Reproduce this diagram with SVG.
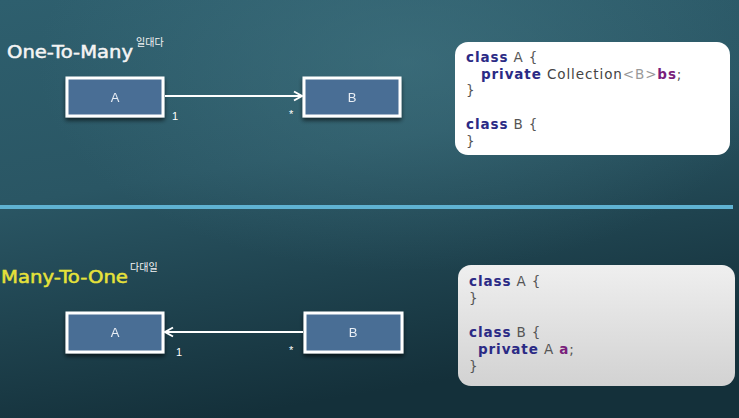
<svg xmlns="http://www.w3.org/2000/svg" width="739" height="418" viewBox="0 0 739 418">
<defs>
<linearGradient id="bg" x1="0" y1="0" x2="0.3" y2="1">
<stop offset="0" stop-color="#2e5f6e"/>
<stop offset="0.45" stop-color="#2a5664"/>
<stop offset="1" stop-color="#14303a"/>
</linearGradient>
<radialGradient id="hl" cx="0.55" cy="0.15" r="0.5">
<stop offset="0" stop-color="#4a7f8c" stop-opacity="0.45"/>
<stop offset="1" stop-color="#4a7f8c" stop-opacity="0"/>
</radialGradient>
<filter id="sh" x="-20%" y="-20%" width="140%" height="160%">
<feDropShadow dx="0" dy="3" stdDeviation="2" flood-color="#000" flood-opacity="0.6"/>
</filter>
<marker id="open" markerWidth="12" markerHeight="12" refX="10" refY="6" orient="auto" markerUnits="userSpaceOnUse">
<path d="M2,1.5 L10,6 L2,10.5" fill="none" stroke="#ffffff" stroke-width="2"/>
</marker>
<linearGradient id="code2" x1="0" y1="0" x2="0" y2="1">
<stop offset="0" stop-color="#efefef"/>
<stop offset="1" stop-color="#d2d2d2"/>
</linearGradient>
</defs>
<style>
.title{font-family:"DejaVu Sans","Noto Sans",sans-serif;font-size:17px;stroke-width:0.5}
.sup{font-family:"Noto Sans CJK KR",sans-serif;font-size:10px}
.box{fill:#4a6e95;stroke:#ffffff;stroke-width:3}
.lbl{font-family:"Liberation Sans",Arial,sans-serif;font-size:13px;fill:#e8eef5;text-anchor:middle}
.mult{font-family:"Liberation Sans",Arial,sans-serif;font-size:11px;fill:#ffffff}
.code{font-family:"DejaVu Sans","Noto Sans",sans-serif;font-size:13.5px;letter-spacing:0.9px;fill:#555}
.kw{fill:#2b2a85;font-weight:bold}
.pu{fill:#7a1f7c;font-weight:bold}
.lt{fill:#999}
.conn{stroke:#ffffff;stroke-width:2;fill:none}
</style>
<rect width="739" height="418" fill="url(#bg)"/>
<rect width="739" height="418" fill="url(#hl)"/>
<rect x="0" y="205" width="733" height="4" fill="#5fb2d2"/>

<g id="title1">
<text class="title" x="7" y="58" fill="#f4f4f4" stroke="#f4f4f4" textLength="126" lengthAdjust="spacingAndGlyphs">One-To-Many</text>
<text class="sup" x="136" y="46" fill="#f4f4f4">일대다</text>
</g>
<g id="title2">
<text class="title" x="1" y="283" fill="#e6e23a" stroke="#e6e23a" textLength="127" lengthAdjust="spacingAndGlyphs">Many-To-One</text>
<text class="sup" x="130" y="271" fill="#f4f4f4">다대일</text>
</g>

<g id="nodeA1" filter="url(#sh)">
<rect class="box" x="67" y="78" width="96" height="38"/>
<text class="lbl" x="115" y="102">A</text>
</g>
<g id="nodeB1" filter="url(#sh)">
<rect class="box" x="304" y="78" width="96" height="38"/>
<text class="lbl" x="352" y="102">B</text>
</g>
<g id="nodeA2" filter="url(#sh)">
<rect class="box" x="67" y="313" width="96" height="39"/>
<text class="lbl" x="115" y="337">A</text>
</g>
<g id="nodeB2" filter="url(#sh)">
<rect class="box" x="305" y="313" width="97" height="39"/>
<text class="lbl" x="353" y="337">B</text>
</g>

<g id="connectors">
<line class="conn" x1="165" y1="96" x2="302" y2="96" marker-end="url(#open)"/>
<text class="mult" x="172" y="120">1</text>
<text class="mult" x="289" y="118">*</text>
<line class="conn" x1="303" y1="332" x2="165" y2="332" marker-end="url(#open)"/>
<text class="mult" x="176" y="356">1</text>
<text class="mult" x="289" y="354">*</text>
</g>

<g id="code1">
<rect x="455" y="42" width="275" height="113" rx="13" fill="#ffffff"/>
<text class="code" x="466" y="62"><tspan class="kw">class</tspan> A {</text>
<text class="code" x="481" y="79"><tspan class="kw">private</tspan> <tspan fill="#444">Collection</tspan><tspan class="lt">&lt;B&gt;</tspan><tspan class="pu">bs</tspan>;</text>
<text class="code" x="466" y="95">}</text>
<text class="code" x="466" y="129"><tspan class="kw">class</tspan> B {</text>
<text class="code" x="466" y="146">}</text>
</g>
<g id="code2">
<rect x="458" y="265" width="277" height="121" rx="13" fill="url(#code2)"/>
<text class="code" x="469" y="286"><tspan class="kw">class</tspan> A {</text>
<text class="code" x="469" y="303">}</text>
<text class="code" x="469" y="337"><tspan class="kw">class</tspan> B {</text>
<text class="code" x="478" y="354"><tspan class="kw">private</tspan> A <tspan class="pu">a</tspan>;</text>
<text class="code" x="469" y="371">}</text>
</g>
</svg>
